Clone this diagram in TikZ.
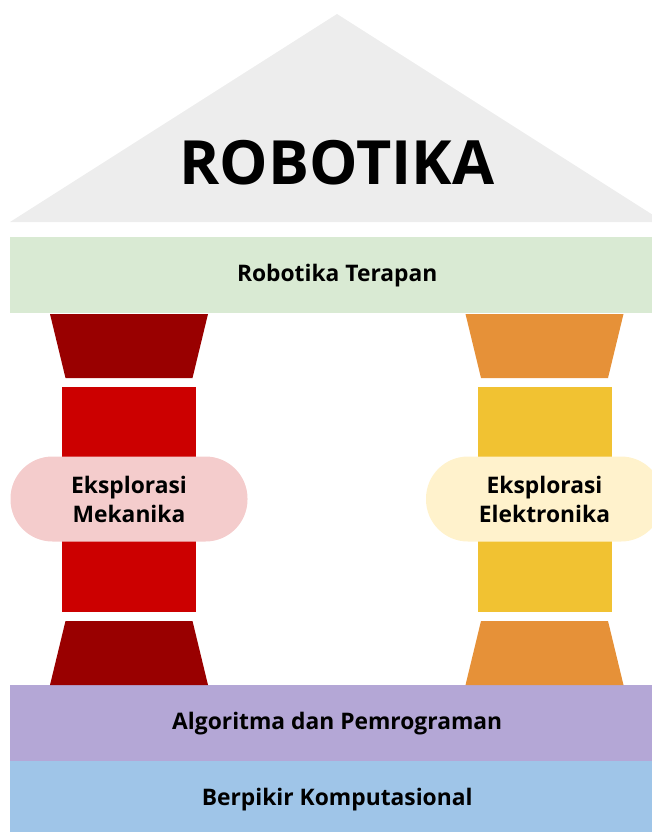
\documentclass[tikz,border=0pt]{standalone}
\usepackage{fontspec}
\setmainfont{Open Sans}
\usetikzlibrary{positioning}

\definecolor{roofgray}{HTML}{EDEDED}
\definecolor{topgreen}{HTML}{D9EAD3}
\definecolor{algopurple}{HTML}{B4A7D6}
\definecolor{basebulue}{HTML}{9FC5E8}
\definecolor{mekdark}{HTML}{990000}
\definecolor{mekred}{HTML}{CC0000}
\definecolor{mekpink}{HTML}{F4CCCC}
\definecolor{elkorange}{HTML}{E69138}
\definecolor{elkyellow}{HTML}{F1C232}
\definecolor{elkcream}{HTML}{FFF2CC}

\begin{document}
\begin{tikzpicture}[x=1pt,y=-1pt,
						band/.style={fill=#1,draw=none,minimum width=654pt,
							minimum height=76pt,inner sep=0pt,
							font=\bfseries\fontsize{22.8}{26}\selectfont},
						pill/.style={fill=#1,draw=none,rounded corners=42pt,
							minimum width=237pt,minimum height=85pt,align=center,
							font=\bfseries\fontsize{22.8}{29}\selectfont}]

		\useasboundingbox (0,0) rectangle (652,832);
		\clip (0,0) rectangle (652,832);

		% atap
		\fill[roofgray] (10,222) -- (337,14) -- (664,222) -- cycle;
		\node[font=\bfseries\fontsize{61}{70}\selectfont] (judul) at (337,163) {ROBOTIKA};

		% lapisan
		\node[band=topgreen, anchor=north west] (terapan) at (10,237) {Robotika Terapan};
		\node[band=algopurple, anchor=north west] (algo) at (10,685) {Algoritma dan Pemrograman};
		\node[band=basebulue, anchor=north west] (dasar) at (10,761) {Berpikir Komputasional};

		% tiang
		\foreach \cx/\dark/\mid in {129/mekdark/mekred, 544.5/elkorange/elkyellow}
		{
			\fill[\dark] (\cx-79,314) -- (\cx+79,314) -- (\cx+63.5,378) -- (\cx-63.5,378) -- cycle;
			\fill[\mid] (\cx-67,387) rectangle (\cx+67,612);
			\fill[\dark] (\cx-63.5,621) -- (\cx+63.5,621) -- (\cx+79,685) -- (\cx-79,685) -- cycle;
		}

		\node[pill=mekpink] (mekanika) at (129,499) {Eksplorasi\\Mekanika};
		\node[pill=elkcream] (elektronika) at (544.5,499) {Eksplorasi\\Elektronika};

	\end{tikzpicture}
\end{document}
